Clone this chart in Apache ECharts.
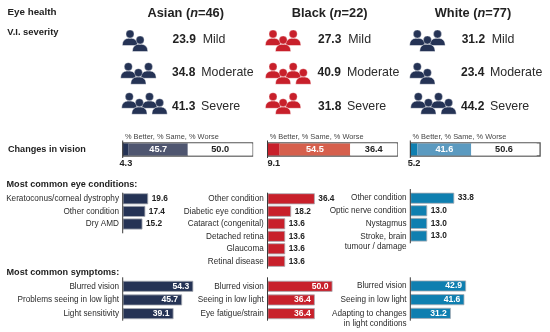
<!DOCTYPE html>
<html><head><meta charset="utf-8">
<style>html,body{margin:0;padding:0;background:#fff}#c{width:550px;height:332px}</style>
<script src="https://cdn.jsdelivr.net/npm/echarts@6/dist/echarts.min.js"></script></head>
<body><div id="c"></div>
<script>
// ---------- data ----------
const groups = ['Asian', 'Black', 'White'];
const groupN = [46, 22, 77];
const severityNames = ['Mild', 'Moderate', 'Severe'];
const severityAsian = ['23.9', '34.8', '41.3'];
const severityBlack = ['27.3', '40.9', '31.8'];
const severityWhite = ['31.2', '23.4', '44.2'];
const iconCountsAsian = [2, 3, 4];
const iconCountsBlack = [3, 4, 3];
const iconCountsWhite = [3, 2, 4];
const changeNames = ['% Better', '% Same', '% Worse'];
const changeAsian = [4.3, 45.7, 50.0];
const changeBlack = [9.1, 54.5, 36.4];
const changeWhite = [5.2, 41.6, 50.6];
const condAsianNames = ['Keratoconus/corneal dystrophy', 'Other condition', 'Dry AMD'];
const condAsianValues = [19.6, 17.4, 15.2];
const condBlackNames = ['Other condition', 'Diabetic eye condition', 'Cataract (congenital)', 'Detached retina', 'Glaucoma', 'Retinal disease'];
const condBlackValues = [36.4, 18.2, 13.6, 13.6, 13.6, 13.6];
const condWhiteNames = ['Other condition', 'Optic nerve condition', 'Nystagmus', 'Stroke, brain\ntumour / damage'];
const condWhiteValues = [33.8, 13.0, 13.0, 13.0];
const sympAsianNames = ['Blurred vision', 'Problems seeing in low light', 'Light sensitivity'];
const sympAsianValues = [54.3, 45.7, 39.1];
const sympBlackNames = ['Blurred vision', 'Seeing in low light', 'Eye fatigue/strain'];
const sympBlackValues = [50.0, 36.4, 36.4];
const sympWhiteNames = ['Blurred vision', 'Seeing in low light', 'Adapting to changes\nin light conditions'];
const sympWhiteValues = [42.9, 41.6, 31.2];

// ---------- layout & style ----------
const FONT = '"Liberation Sans", Arial, sans-serif';
const NAVY = '#253355', RED = '#c8202b', BLUE = '#0f7fb0';
const axisX = [122.7, 267.5, 410.3];
const barColors = [NAVY, RED, BLUE];
const iconColors = [NAVY, RED, NAVY];
const stackColors = [[NAVY, '#4f5670', '#fff'], [RED, '#d6604d', '#fff'], [BLUE, '#5b9ac0', '#fff']];
const titleX = [185.7, 329.7, 473];
const numX = [[172.5, 172, 172], [318, 317.5, 318], [461.7, 461, 461]];
const wordX = [[202.7, 201.3, 201], [348.3, 347, 347], [491.7, 490, 490]];
const rowY = [40, 72.7, 106.7];
const iconX = [[130, 128.3, 129.3], [273, 273, 273], [417.3, 417.3, 418.3]];
const iconY = [34, 66.7, 96.7];

const grids = [], xAxes = [], yAxes = [], series = [], graphic = [];

function txt(x, y, text, size, weight, align, color, rich) {
  graphic.push({type: 'text', x, y, silent: true, style: {
    text, fill: color || '#222', font: `${weight || 'normal'} ${size}px ${FONT}`,
    align: align || 'left', verticalAlign: 'middle', rich}});
}
function vline(x, y1, y2) {
  graphic.push({type: 'line', silent: true, z: 10, shape: {x1: x, y1, x2: x, y2},
    style: {stroke: '#3a3a3a', lineWidth: 1}});
}
function person(x, y, color) {
  graphic.push({type: 'rect', silent: true,
    shape: {x: x - 7.6, y: y + 4.3, width: 15.2, height: 7.3, r: [6, 6, 0.4, 0.4]},
    style: {fill: color, stroke: '#fff', lineWidth: 0.5}});
  graphic.push({type: 'circle', silent: true, shape: {cx: x, cy: y, r: 4},
    style: {fill: color, stroke: '#fff', lineWidth: 0.3}});
}
function iconGroup(x0, y0, count, color) {
  for (let i = 0; i < count; i++) if (i % 2 === 0) person(x0 + i * 10.1, y0, color);
  for (let i = 0; i < count; i++) if (i % 2 === 1) person(x0 + i * 10.1, y0 + 6, color);
}

function barGrid(col, firstCenter, pitch, names, values, inside) {
  const idx = grids.length;
  grids.push({left: axisX[col], top: firstCenter - pitch / 2, width: 130, height: pitch * names.length});
  xAxes.push({gridIndex: idx, type: 'value', min: 0, max: 100, show: false});
  yAxes.push({gridIndex: idx, type: 'category', inverse: true,
    data: names.map(n => n.includes('\n')
      ? {value: n, textStyle: {verticalAlign: 'top', padding: [-4, 0, 0, 0]}}
      : n),
    axisLine: {show: false}, axisTick: {show: false},
    axisLabel: {margin: 3.7, fontSize: 8.2, color: '#2b2b2b', fontFamily: FONT, lineHeight: 9.8, interval: 0}});
  series.push({type: 'bar', xAxisIndex: idx, yAxisIndex: idx, data: values, barWidth: 11, silent: true,
    itemStyle: {color: barColors[col], borderColor: '#a9adb5', borderWidth: 0.8},
    label: {show: true, position: inside ? 'insideRight' : 'right', distance: inside ? 4 : 3.5,
      color: inside ? '#fff' : '#222', fontSize: inside ? 8.6 : 8.3, fontWeight: 'bold', fontFamily: FONT,
      formatter: p => p.value.toFixed(1)}});
}

function stackGrid(col, values) {
  const idx = grids.length;
  grids.push({left: axisX[col] + 0.4, top: 142.8, width: 129.4, height: 13.2, show: true,
    borderColor: '#555', borderWidth: 1.3, backgroundColor: '#fff'});
  xAxes.push({gridIndex: idx, type: 'value', min: 0, max: 100, show: false});
  yAxes.push({gridIndex: idx, type: 'category', data: ['Change'], show: false});
  values.forEach((v, i) => series.push({
    type: 'bar', name: changeNames[i], stack: 'c' + col, xAxisIndex: idx, yAxisIndex: idx,
    data: [v], barWidth: 12, silent: true, itemStyle: {color: stackColors[col][i]},
    label: {show: true, position: i === 0 ? 'bottom' : 'inside', distance: 3.5,
      color: i === 1 ? '#fff' : '#222', fontSize: 9.2, fontWeight: 'bold', fontFamily: FONT,
      formatter: p => p.value.toFixed(1)}}));
  vline(axisX[col], 140.5, 158);
  txt(axisX[col] + 2.2, 136.7, changeNames.join(', '), 7.4, 'normal', 'left', '#444');
}

// left-hand headings
txt(7.5, 12, 'Eye health', 9.8, 'bold');
txt(7.3, 32, 'V.I. severity', 9.4, 'bold');
txt(8, 149, 'Changes in vision', 9.1, 'bold');
txt(6.5, 184.5, 'Most common eye conditions:', 9.1, 'bold');
txt(6.5, 272, 'Most common symptoms:', 9.1, 'bold');

// column headers and severity rows
const sevData = [severityAsian, severityBlack, severityWhite];
const iconData = [iconCountsAsian, iconCountsBlack, iconCountsWhite];
groups.forEach((g, c) => {
  txt(titleX[c], 13, `{b|${g} (}{i|n}{b|=${groupN[c]})}`, 13, 'bold', 'center', '#222', {
    b: {font: `bold 12.8px ${FONT}`, fill: '#222'},
    i: {font: `italic bold 12.8px ${FONT}`, fill: '#222'}});
  severityNames.forEach((s, r) => {
    txt(numX[c][r], rowY[r], sevData[c][r], 12, 'bold');
    txt(wordX[c][r], rowY[r], s, 12.4, 'normal', 'left', '#2b2b2b');
    iconGroup(iconX[c][r], iconY[r], iconData[c][r], iconColors[c]);
  });
});

// stacked change bars
stackGrid(0, changeAsian);
stackGrid(1, changeBlack);
stackGrid(2, changeWhite);

// eye conditions
barGrid(0, 198.8, 12.6, condAsianNames, condAsianValues, false);
barGrid(1, 198.8, 12.5, condBlackNames, condBlackValues, false);
barGrid(2, 198.2, 12.6, condWhiteNames, condWhiteValues, false);
vline(axisX[0], 192.7, 233.3);
vline(axisX[1], 192.7, 268.7);
vline(axisX[2], 189, 243.3);

// symptoms
barGrid(0, 286.3, 13.67, sympAsianNames, sympAsianValues, true);
barGrid(1, 286.3, 13.67, sympBlackNames, sympBlackValues, true);
barGrid(2, 286, 13.67, sympWhiteNames, sympWhiteValues, true);
vline(axisX[0], 277.3, 320.7);
vline(axisX[1], 277.3, 320.7);
vline(axisX[2], 277.3, 320.7);

const chart = echarts.init(document.getElementById('c'), null, {renderer: 'canvas'});
chart.setOption({
  animation: false, backgroundColor: '#fff',
  textStyle: {fontFamily: FONT},
  grid: grids, xAxis: xAxes, yAxis: yAxes, series, graphic: {elements: graphic}
});
</script></body></html>
